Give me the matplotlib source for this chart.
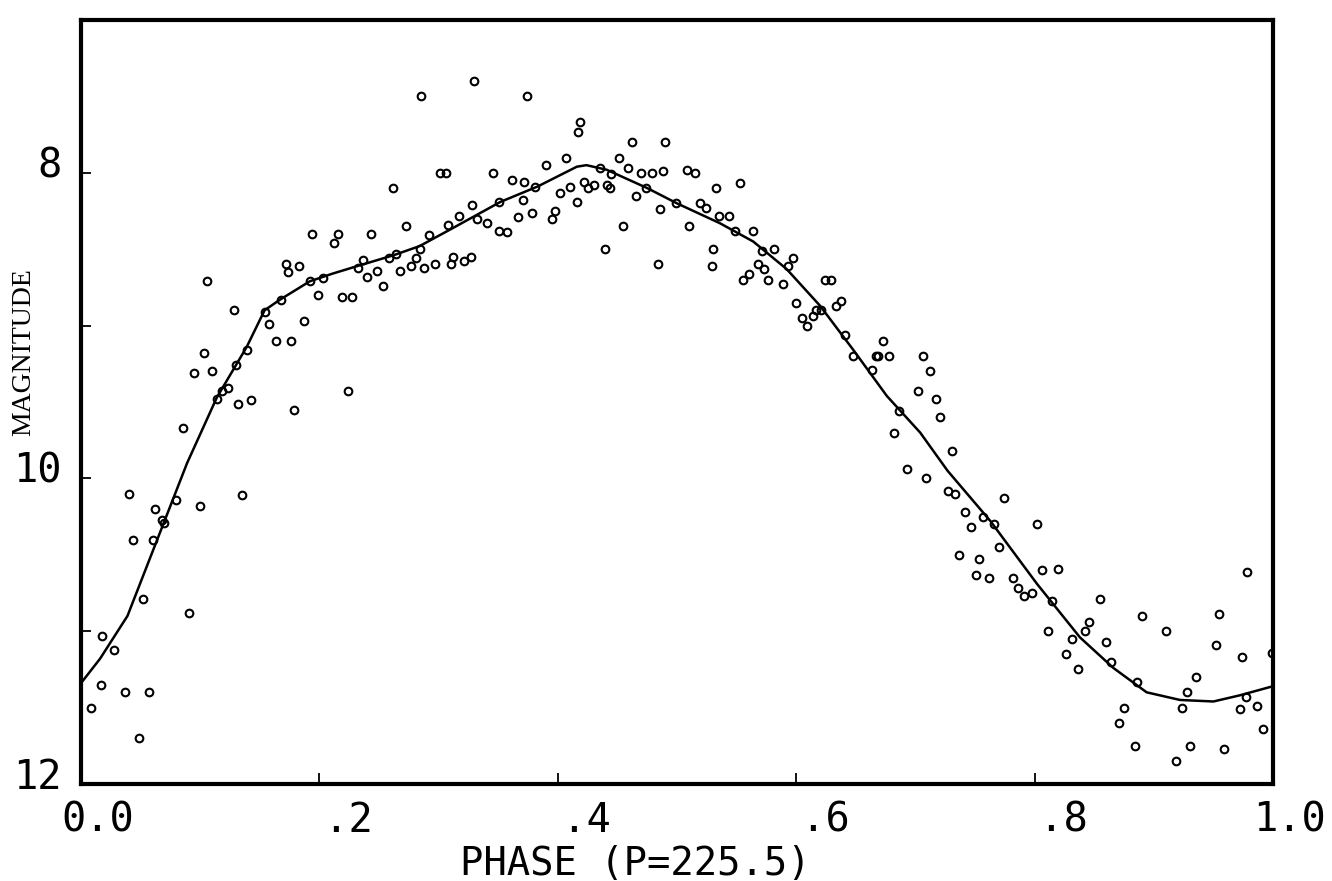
import numpy as np
import matplotlib
matplotlib.use("Agg")
import matplotlib.pyplot as plt
from matplotlib.transforms import ScaledTranslation

# ------------------------------------------------------------------------------
# 1. DATA
# ------------------------------------------------------------------------------
# observed points: phase, magnitude
phase_obs = [
    0.008, 0.017, 0.018, 0.028, 0.037, 0.040, 0.044, 0.049, 0.052, 0.057,
    0.060, 0.062, 0.068, 0.070, 0.080, 0.086, 0.091, 0.095, 0.100, 0.103,
    0.106, 0.110, 0.114, 0.118, 0.123, 0.128, 0.130, 0.132, 0.135, 0.139,
    0.143, 0.154, 0.158, 0.164, 0.168, 0.172, 0.174, 0.176, 0.179, 0.183,
    0.187, 0.192, 0.194, 0.199, 0.203, 0.212, 0.216, 0.219, 0.224, 0.227,
    0.232, 0.237, 0.240, 0.243, 0.248, 0.253, 0.258, 0.262, 0.264, 0.268,
    0.273, 0.277, 0.281, 0.284, 0.285, 0.288, 0.292, 0.297, 0.301, 0.306,
    0.308, 0.310, 0.312, 0.317, 0.321, 0.327, 0.328, 0.330, 0.332, 0.341,
    0.346, 0.351, 0.351, 0.357, 0.362, 0.367, 0.371, 0.372, 0.374, 0.378,
    0.381, 0.390, 0.395, 0.398, 0.402, 0.407, 0.410, 0.416, 0.417, 0.419,
    0.422, 0.425, 0.430, 0.435, 0.440, 0.441, 0.444, 0.445, 0.451, 0.455,
    0.459, 0.462, 0.466, 0.470, 0.474, 0.479, 0.484, 0.486, 0.488, 0.490,
    0.499, 0.508, 0.510, 0.515, 0.519, 0.524, 0.529, 0.530, 0.533, 0.535,
    0.544, 0.549, 0.553, 0.555, 0.560, 0.564, 0.568, 0.571, 0.573, 0.576,
    0.581, 0.589, 0.593, 0.597, 0.600, 0.605, 0.609, 0.614, 0.617, 0.621,
    0.624, 0.629, 0.633, 0.638, 0.641, 0.648, 0.664, 0.667, 0.669, 0.673,
    0.678, 0.682, 0.686, 0.693, 0.702, 0.706, 0.709, 0.712, 0.717, 0.721,
    0.727, 0.731, 0.733, 0.737, 0.742, 0.747, 0.751, 0.753, 0.757, 0.762,
    0.766, 0.770, 0.774, 0.782, 0.786, 0.791, 0.798, 0.802, 0.806, 0.811,
    0.815, 0.820, 0.826, 0.831, 0.836, 0.842, 0.846, 0.855, 0.860, 0.864,
    0.871, 0.875, 0.884, 0.886, 0.890, 0.910, 0.919, 0.924, 0.928, 0.930,
    0.935, 0.952, 0.955, 0.959, 0.972, 0.974, 0.977, 0.978, 0.987, 0.992,
    0.999,
]
mag_obs = [
    11.50, 11.35, 11.03, 11.12, 11.40, 10.10, 10.40, 11.70, 10.79, 11.40,
    10.40, 10.20, 10.27, 10.29, 10.14, 9.67, 10.88, 9.31, 10.18, 9.18,
    8.71, 9.30, 9.48, 9.43, 9.41, 8.90, 9.26, 9.51, 10.11, 9.16,
    9.49, 8.91, 8.99, 9.10, 8.83, 8.60, 8.65, 9.10, 9.55, 8.61,
    8.97, 8.71, 8.40, 8.80, 8.69, 8.46, 8.40, 8.81, 9.43, 8.81,
    8.62, 8.57, 8.68, 8.40, 8.64, 8.74, 8.56, 8.10, 8.53, 8.64,
    8.35, 8.61, 8.56, 8.50, 7.50, 8.62, 8.41, 8.60, 8.00, 8.00,
    8.34, 8.60, 8.55, 8.28, 8.58, 8.55, 8.21, 7.40, 8.30, 8.33,
    8.00, 8.38, 8.19, 8.39, 8.05, 8.29, 8.18, 8.06, 7.50, 8.26,
    8.09, 7.95, 8.30, 8.25, 8.13, 7.90, 8.09, 8.19, 7.73, 7.67,
    8.06, 8.10, 8.08, 7.97, 8.50, 8.08, 8.10, 8.01, 7.90, 8.35,
    7.97, 7.80, 8.15, 8.00, 8.10, 8.00, 8.60, 8.24, 7.99, 7.80,
    8.20, 7.98, 8.35, 8.00, 8.20, 8.23, 8.61, 8.50, 8.10, 8.28,
    8.28, 8.38, 8.07, 8.70, 8.66, 8.38, 8.60, 8.51, 8.63, 8.70,
    8.50, 8.73, 8.61, 8.56, 8.85, 8.95, 9.00, 8.94, 8.90, 8.90,
    8.70, 8.70, 8.87, 8.84, 9.06, 9.20, 9.29, 9.20, 9.20, 9.10,
    9.20, 9.70, 9.56, 9.94, 9.43, 9.20, 10.00, 9.30, 9.48, 9.60,
    10.08, 9.82, 10.10, 10.50, 10.22, 10.32, 10.63, 10.53, 10.25, 10.65,
    10.30, 10.45, 10.13, 10.65, 10.72, 10.77, 10.75, 10.30, 10.60, 11.00,
    10.80, 10.59, 11.15, 11.05, 11.25, 11.00, 10.94, 10.79, 11.07, 11.20,
    11.60, 11.50, 11.75, 11.33, 10.90, 11.00, 11.85, 11.50, 11.40, 11.75,
    11.30, 11.09, 10.89, 11.77, 11.51, 11.17, 11.43, 10.61, 11.49, 11.64,
    11.14,
]

# fitted mean light curve
phase_fit = [
    0.000, 0.016, 0.039, 0.064, 0.089, 0.114, 0.139, 0.154, 0.167, 0.192,
    0.211, 0.232, 0.262, 0.284, 0.310, 0.352, 0.383, 0.416, 0.424, 0.441,
    0.475, 0.500, 0.536, 0.564, 0.592, 0.620, 0.648, 0.676, 0.704, 0.727,
    0.763, 0.802, 0.838, 0.866, 0.894, 0.922, 0.950, 0.972, 1.000,
]
mag_fit = [
    11.34, 11.18, 10.90, 10.40, 9.90, 9.47, 9.14, 8.90, 8.83, 8.71,
    8.66, 8.61, 8.54, 8.48, 8.37, 8.19, 8.09, 7.96, 7.95, 7.98,
    8.10, 8.20, 8.33, 8.45, 8.63, 8.87, 9.16, 9.46, 9.70, 9.95,
    10.28, 10.69, 11.04, 11.24, 11.40, 11.45, 11.46, 11.42, 11.36,
]

x_ticks = [0.0, 0.2, 0.4, 0.6, 0.8, 1.0]
x_ticklabels = ["0.0", " .2", " .4", " .6", " .8", "1.0"]
y_ticks = [8, 9, 10, 11, 12]
y_ticklabels = ["8", "", "10", "", "12"]

# ------------------------------------------------------------------------------
# 2. FIGURE
# ------------------------------------------------------------------------------
fig = plt.figure(figsize=(13.32, 8.81), dpi=100)
ax = fig.add_axes([0.0608, 0.1101, 0.8949, 0.8672])

ax.plot(phase_fit, mag_fit, color="black", linewidth=1.8, zorder=2)
ax.plot(phase_obs, mag_obs, linestyle="none", marker="o", markersize=5.5,
        markerfacecolor="none", markeredgecolor="black",
        markeredgewidth=1.5, zorder=3)

ax.set_xlim(0, 1)
ax.set_ylim(12, 7)

mono = "DejaVu Sans Mono"
ax.set_xticks(x_ticks)
ax.set_xticklabels(x_ticklabels, family=mono, fontsize=29)
ax.set_yticks(y_ticks)
ax.set_yticklabels(y_ticklabels, family=mono, fontsize=29)
ax.tick_params(axis="x", direction="in", length=8, width=1.3, pad=12)
ax.tick_params(axis="y", direction="in", length=7, width=1.3, pad=14)

# plotter-style label offsets
dx = ScaledTranslation(0.17, 0, fig.dpi_scale_trans)
for lab in ax.get_xticklabels():
    lab.set_transform(lab.get_transform() + dx)
dy = ScaledTranslation(0, 0.11, fig.dpi_scale_trans)
for lab in ax.get_yticklabels():
    lab.set_transform(lab.get_transform() + dy)

for sp in ax.spines.values():
    sp.set_linewidth(3.0)

ax.set_xlabel("PHASE (P=225.5)", family=mono, fontsize=28)
ax.xaxis.set_label_coords(0.465, -0.080)
ax.xaxis.label.set_va("top")

ax.set_ylabel("MAGNITUDE", family="Liberation Serif", fontsize=20)
ax.yaxis.set_label_coords(-0.048, 0.565)
ax.yaxis.label.set_va("center")

fig.savefig("out.png", dpi=100, facecolor="white")
